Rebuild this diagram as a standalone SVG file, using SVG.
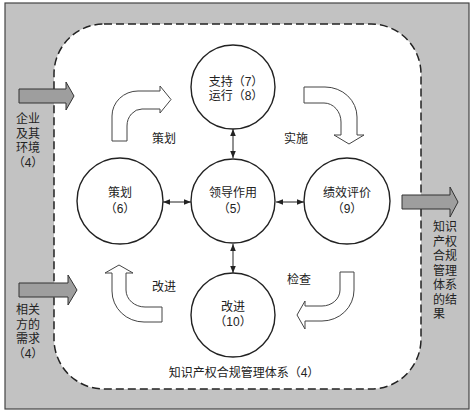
<svg xmlns="http://www.w3.org/2000/svg" width="474" height="414" viewBox="0 0 474 414">
<style>
text{font-family:"Liberation Sans","Noto Sans CJK SC",sans-serif;font-size:12px;fill:#222}
.c{text-anchor:middle}
.node{fill:#fff;stroke:#222;stroke-width:1.4}
.hollow{fill:#fff;stroke:#444;stroke-width:1}
.gray{fill:#9e9e9e;stroke:#333;stroke-width:1}
.link{stroke:#222;stroke-width:1;fill:none;marker-start:url(#ah);marker-end:url(#ah)}
</style>
<defs>
<marker id="ah" viewBox="0 0 10 10" refX="10" refY="5" markerWidth="7" markerHeight="7" orient="auto-start-reverse" markerUnits="userSpaceOnUse"><path d="M0,1 L10,5 L0,9 Z" fill="#222"/></marker>
</defs>
<rect x="5" y="3" width="464" height="406" fill="#c2c2c2" stroke="#444" stroke-width="1.2"/>
<g id="system">
<rect x="54" y="24" width="367" height="365" rx="50" ry="50" fill="#fff" stroke="#222" stroke-width="1.5" stroke-dasharray="8,4"/>
<text x="244" y="377" class="c">知识产权合规管理体系（4）</text>
</g>
<g id="inputs">
<path class="gray" d="M19,89 H66 V82 L74,96 L66,110 V103 H19 Z"/>
<text class="c"><tspan x="28" y="123">企业</tspan><tspan x="28" dy="14.5">及其</tspan><tspan x="28" dy="14.5">环境</tspan><tspan x="28" dy="14.5">（4）</tspan></text>
<path class="gray" d="M19,283 H68 V275 L77,290 L68,305 V297 H19 Z"/>
<text class="c"><tspan x="28" y="314">相关</tspan><tspan x="28" dy="14.5">方的</tspan><tspan x="28" dy="14.5">需求</tspan><tspan x="28" dy="14.5">（4）</tspan></text>
</g>
<g id="output">
<path class="gray" d="M402,195 H450 V187 L458,202 L450,217 V209 H402 Z"/>
<text><tspan x="433" y="231">知识</tspan><tspan x="433" dy="14.5">产权</tspan><tspan x="433" dy="14.5">合规</tspan><tspan x="433" dy="14.5">管理</tspan><tspan x="433" dy="14.5">体系</tspan><tspan x="433" dy="14.5">的结</tspan><tspan x="433" dy="14.5">果</tspan></text>
</g>
<g id="cycle-arrows">
<path class="hollow" d="M112,141 V116 A26,25 0 0 1 138,91 H160 V86 L171,99.5 L160,113 V109 H142 A15,17 0 0 0 127,126 V141 Z"/>
<text x="152" y="143">策划</text>
<path class="hollow" d="M304,87 H325 A32,30 0 0 1 357,117 V135 H364 L349,144 L334,135 H341 V122 A17,19 0 0 0 324,103 H304 Z"/>
<text x="284" y="143">实施</text>
<path class="hollow" d="M162,307 H145 A19,17 0 0 1 126,290 V273 H133 L119,265 L105,273 H112 V291 A32,31 0 0 0 144,322 H162 Z"/>
<text x="152" y="291">改进</text>
<path class="hollow" d="M340,272 H354 V290 A32,31 0 0 1 322,321 H305 V329 L297,315 L305,301 V306 H322 A18,16 0 0 0 340,290 Z"/>
<text x="287" y="284">检查</text>
</g>
<g id="connectors">
<line class="link" x1="233" y1="129" x2="233" y2="158"/>
<line class="link" x1="163" y1="202" x2="191" y2="202"/>
<line class="link" x1="276" y1="202" x2="304" y2="202"/>
<line class="link" x1="233" y1="244" x2="233" y2="273"/>
</g>
<g id="support">
<circle class="node" cx="233" cy="87" r="42"/>
<text class="c"><tspan x="236" y="86">支持（7）</tspan><tspan x="236" dy="14">运行（8）</tspan></text>
</g>
<g id="plan">
<circle class="node" cx="120" cy="201" r="43"/>
<text class="c"><tspan x="120" y="197">策划</tspan><tspan x="120" dy="16">（6）</tspan></text>
</g>
<g id="leadership">
<circle class="node" cx="233" cy="201" r="42"/>
<text class="c"><tspan x="233" y="197">领导作用</tspan><tspan x="233" dy="16">（5）</tspan></text>
</g>
<g id="evaluation">
<circle class="node" cx="347" cy="201" r="43"/>
<text class="c"><tspan x="347" y="197">绩效评价</tspan><tspan x="347" dy="16">（9）</tspan></text>
</g>
<g id="improve">
<circle class="node" cx="233" cy="315" r="42"/>
<text class="c"><tspan x="233" y="311">改进</tspan><tspan x="233" dy="15">（10）</tspan></text>
</g>
</svg>
